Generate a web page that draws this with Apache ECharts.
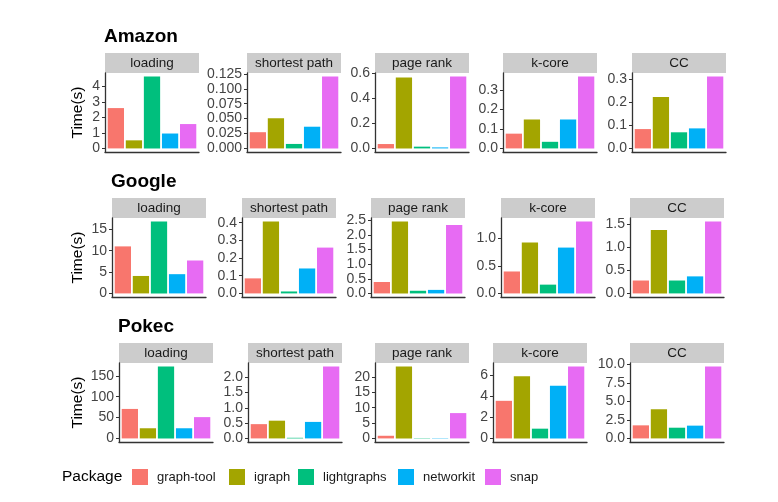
<!DOCTYPE html>
<html>
<head>
<meta charset="utf-8">
<script src="https://cdn.jsdelivr.net/npm/echarts@6/dist/echarts.min.js"></script>
<style>
html,body{margin:0;padding:0;background:#fff;}
#chart{width:778px;height:502px;}
</style>
</head>
<body>
<div id="chart"></div>
<script>
// ---- data ----
const packages = ['graph-tool', 'igraph', 'lightgraphs', 'networkit', 'snap'];
const datasets = ['Amazon', 'Google', 'Pokec'];
const tasks = ['loading', 'shortest path', 'page rank', 'k-core', 'CC'];

const amazonLoading = [2.6, 0.52, 4.63, 0.96, 1.57];
const amazonShortestPath = [0.0272, 0.0506, 0.0075, 0.0364, 0.1205];
const amazonPageRank = [0.035, 0.568, 0.014, 0.008, 0.575];
const amazonKCore = [0.076, 0.149, 0.034, 0.149, 0.37];
const amazonCC = [0.084, 0.223, 0.07, 0.087, 0.312];

const googleLoading = [11.0, 4.08, 16.8, 4.5, 7.7];
const googleShortestPath = [0.085, 0.406, 0.011, 0.141, 0.259];
const googlePageRank = [0.39, 2.45, 0.09, 0.12, 2.33];
const googleKCore = [0.40, 0.93, 0.16, 0.836, 1.31];
const googleCC = [0.28, 1.38, 0.28, 0.37, 1.56];

const pokecLoading = [70.6, 24.3, 172, 24.3, 51];
const pokecShortestPath = [0.467, 0.58, 0.02, 0.54, 2.35];
const pokecPageRank = [0.86, 23.4, 0.1, 0.1, 8.25];
const pokecKCore = [3.59, 5.94, 0.93, 5.03, 6.86];
const pokecCC = [1.77, 3.95, 1.45, 1.73, 9.73];

// tick labels
const amazonLoadingTicks = ['0', '1', '2', '3', '4'];
const amazonShortestPathTicks = ['0.000', '0.025', '0.050', '0.075', '0.100', '0.125'];
const amazonPageRankTicks = ['0.0', '0.2', '0.4', '0.6'];
const amazonKCoreTicks = ['0.0', '0.1', '0.2', '0.3'];
const amazonCCTicks = ['0.0', '0.1', '0.2', '0.3'];

const googleLoadingTicks = ['0', '5', '10', '15'];
const googleShortestPathTicks = ['0.0', '0.1', '0.2', '0.3', '0.4'];
const googlePageRankTicks = ['0.0', '0.5', '1.0', '1.5', '2.0', '2.5'];
const googleKCoreTicks = ['0.0', '0.5', '1.0'];
const googleCCTicks = ['0.0', '0.5', '1.0', '1.5'];

const pokecLoadingTicks = ['0', '50', '100', '150'];
const pokecShortestPathTicks = ['0.0', '0.5', '1.0', '1.5', '2.0'];
const pokecPageRankTicks = ['0', '5', '10', '15', '20'];
const pokecKCoreTicks = ['0', '2', '4', '6'];
const pokecCCTicks = ['0.0', '2.5', '5.0', '7.5', '10.0'];

const colors = ['#F8766D', '#A3A500', '#00BF7D', '#00B0F6', '#E76BF3'];

// ---- assemble ----
const panelValues = [
  [amazonLoading, amazonShortestPath, amazonPageRank, amazonKCore, amazonCC],
  [googleLoading, googleShortestPath, googlePageRank, googleKCore, googleCC],
  [pokecLoading, pokecShortestPath, pokecPageRank, pokecKCore, pokecCC]
];
const panelTicks = [
  [amazonLoadingTicks, amazonShortestPathTicks, amazonPageRankTicks, amazonKCoreTicks, amazonCCTicks],
  [googleLoadingTicks, googleShortestPathTicks, googlePageRankTicks, googleKCoreTicks, googleCCTicks],
  [pokecLoadingTicks, pokecShortestPathTicks, pokecPageRankTicks, pokecKCoreTicks, pokecCCTicks]
];

// layout
const FONT = "'Liberation Sans', Arial, sans-serif";
const rowTops = [73, 218, 363];
const rowLefts = [
  [105, 247, 375, 503, 632],
  [112, 242, 371, 501, 630],
  [119, 248, 375, 493, 630]
];
const panelW = 94, panelH = 79, stripH = 20;
const barW = 0.9 * panelW / 5.2;
const axisColor = '#333333';

const grids = [], xAxes = [], yAxes = [], series = [], graphics = [], titles = [];

for (let r = 0; r < 3; r++) {
  titles.push({
    text: datasets[r],
    left: rowLefts[r][0] - 1,
    top: rowTops[r] - 46,
    padding: 0,
    textStyle: { fontSize: 19, fontWeight: 'bold', color: '#000', fontFamily: FONT }
  });
  graphics.push({
    type: 'text',
    x: 78, y: rowTops[r] + panelH / 2,
    rotation: Math.PI / 2,
    style: {
      text: 'Time(s)', textAlign: 'center', textVerticalAlign: 'middle',
      font: "15.5px " + FONT, fill: '#000'
    }
  });
  for (let c = 0; c < 5; c++) {
    const i = r * 5 + c;
    const vals = panelValues[r][c];
    const ticks = panelTicks[r][c];
    const tickVals = ticks.map(Number);
    const mx = Math.max.apply(null, vals);
    const left = rowLefts[r][c], top = rowTops[r];
    grids.push({ left: left, top: top, width: panelW, height: panelH, containLabel: false });
    xAxes.push({
      gridIndex: i, type: 'value', min: 0.4, max: 5.6,
      axisLine: { show: true, onZero: false, lineStyle: { color: axisColor, width: 1.3 } },
      axisTick: { show: false }, axisLabel: { show: false }, splitLine: { show: false }
    });
    yAxes.push({
      gridIndex: i, type: 'value', min: -0.05 * mx, max: 1.05 * mx,
      axisLine: { show: true, onZero: false, lineStyle: { color: axisColor, width: 1.3 } },
      axisTick: { show: true, length: 3, customValues: tickVals, lineStyle: { color: axisColor, width: 1 } },
      axisLabel: {
        customValues: tickVals, margin: 5, fontSize: 14, color: '#444444', fontFamily: FONT,
        formatter: function (v) {
          for (let k = 0; k < tickVals.length; k++) {
            if (Math.abs(tickVals[k] - v) < 1e-9) return ticks[k];
          }
          return '';
        }
      },
      splitLine: { show: false }
    });
    for (let p = 0; p < 5; p++) {
      series.push({
        type: 'bar', name: packages[p], xAxisIndex: i, yAxisIndex: i,
        data: [[p + 1, vals[p]]], barWidth: barW, barGap: '-100%',
        itemStyle: { color: colors[p] }, silent: true
      });
    }
    // strip
    graphics.push({
      type: 'rect',
      shape: { x: left, y: top - stripH, width: panelW, height: stripH },
      style: { fill: '#CCCCCC' }
    });
    graphics.push({
      type: 'text',
      x: left + panelW / 2, y: top - stripH / 2,
      style: {
        text: tasks[c], textAlign: 'center', textVerticalAlign: 'middle',
        font: "13.5px " + FONT, fill: '#1a1a1a'
      }
    });
  }
}

// legend
const legendX = [132, 229, 298, 398, 485];
const legends = packages.map(function (name, p) {
  return {
    data: [name], left: legendX[p], top: 469, padding: 0,
    itemWidth: 16, itemHeight: 16, icon: 'rect', selectedMode: false,
    textStyle: { fontSize: 13, color: '#1a1a1a', fontFamily: FONT, padding: [0, 0, 0, 4] }
  };
});
graphics.push({
  type: 'text', x: 62, y: 477,
  style: { text: 'Package', textAlign: 'left', textVerticalAlign: 'middle', font: "15.5px " + FONT, fill: '#000' }
});

const chart = echarts.init(document.getElementById('chart'), null, { renderer: 'canvas' });
chart.setOption({
  backgroundColor: '#ffffff',
  animation: false,
  title: titles,
  legend: legends,
  grid: grids,
  xAxis: xAxes,
  yAxis: yAxes,
  series: series,
  graphic: graphics
});
</script>
</body>
</html>
